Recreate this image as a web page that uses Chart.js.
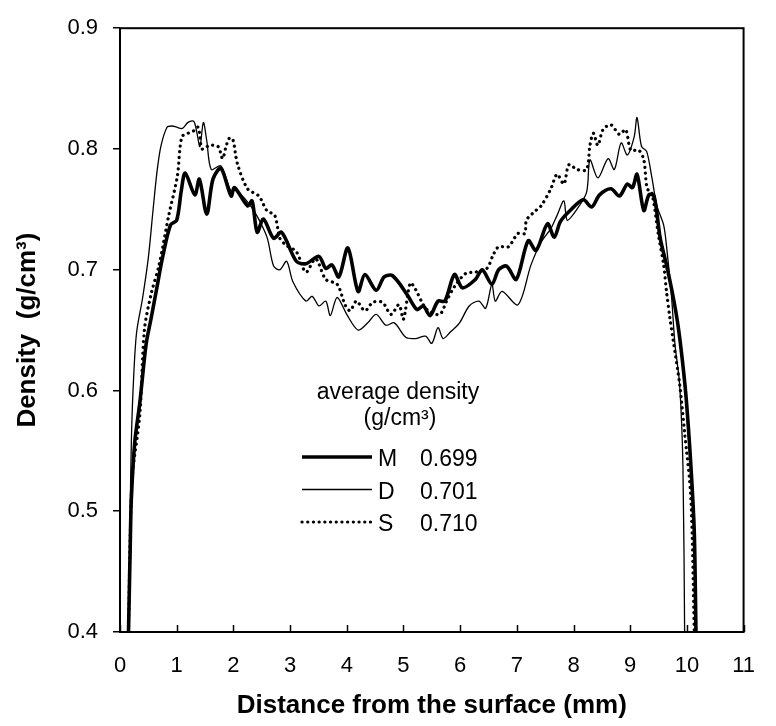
<!DOCTYPE html>
<html>
<head>
<meta charset="utf-8">
<script src="https://cdn.jsdelivr.net/npm/chart.js@4.4.1/dist/chart.umd.min.js"></script>
<style>
  html, body { margin: 0; padding: 0; background: #fff; }
  #wrap { width: 776px; height: 726px; position: relative; }
</style>
</head>
<body>
<div id="wrap"><canvas id="densityChart"></canvas></div>
<script>
// density profiles (x = distance in mm, y = density g/cm3)
const mX = [0.15,0.18,0.20,0.26,0.35,0.46,0.55,0.65,0.75,0.89,1.0,1.08,1.15,1.32,1.40,1.53,1.64,1.78,1.96,2.02,2.25,2.33,2.42,2.53,2.71,2.85,3.11,3.28,3.51,3.63,3.74,3.86,4.02,4.20,4.32,4.52,4.66,4.81,5.07,5.24,5.35,5.47,5.61,5.73,5.90,6.04,6.27,6.39,6.56,6.68,6.82,6.99,7.20,7.34,7.54,7.66,7.77,7.94,8.17,8.32,8.46,8.66,8.81,8.95,9.04,9.12,9.24,9.33,9.42,9.53,9.64,9.76,9.84,9.92,9.99,10.07,10.13,10.16];
const mY = [0.40,0.47,0.51,0.557,0.59,0.638,0.66,0.685,0.71,0.737,0.741,0.765,0.780,0.762,0.775,0.746,0.775,0.784,0.761,0.768,0.753,0.757,0.731,0.742,0.726,0.731,0.707,0.705,0.711,0.701,0.704,0.694,0.718,0.682,0.696,0.683,0.694,0.695,0.679,0.667,0.670,0.662,0.674,0.674,0.696,0.685,0.692,0.700,0.688,0.700,0.703,0.692,0.724,0.716,0.738,0.727,0.740,0.749,0.758,0.752,0.762,0.767,0.761,0.771,0.768,0.779,0.749,0.762,0.761,0.726,0.704,0.677,0.655,0.625,0.592,0.538,0.483,0.40];

const dX = [0.16,0.18,0.20,0.23,0.29,0.40,0.50,0.58,0.65,0.72,0.83,0.92,1.0,1.1,1.2,1.3,1.35,1.41,1.47,1.53,1.61,1.78,1.96,2.05,2.25,2.36,2.48,2.60,2.71,2.82,2.94,3.05,3.28,3.39,3.51,3.63,3.71,3.83,4.0,4.2,4.37,4.52,4.69,4.84,5.04,5.21,5.39,5.5,5.61,5.7,5.82,5.99,6.16,6.33,6.45,6.56,6.62,6.74,7.02,7.25,7.43,7.6,7.71,7.83,7.89,8.06,8.23,8.29,8.43,8.61,8.72,8.84,8.95,9.07,9.12,9.2,9.29,9.38,9.47,9.59,9.64,9.73,9.79,9.87,9.93,9.96];
const dY = [0.40,0.50,0.557,0.60,0.647,0.677,0.71,0.748,0.78,0.802,0.818,0.819,0.818,0.817,0.822,0.823,0.815,0.802,0.822,0.807,0.783,0.786,0.765,0.766,0.756,0.749,0.739,0.726,0.703,0.700,0.707,0.690,0.674,0.678,0.670,0.674,0.662,0.677,0.663,0.650,0.656,0.663,0.654,0.656,0.644,0.643,0.645,0.639,0.652,0.643,0.648,0.656,0.670,0.674,0.668,0.688,0.674,0.682,0.671,0.704,0.723,0.734,0.745,0.757,0.741,0.750,0.764,0.791,0.776,0.792,0.783,0.805,0.795,0.810,0.826,0.802,0.798,0.777,0.753,0.737,0.720,0.677,0.638,0.606,0.538,0.40];

const sX = [0.15,0.18,0.22,0.35,0.43,0.55,0.69,0.86,1.01,1.09,1.2,1.3,1.38,1.45,1.58,1.73,1.81,1.87,1.93,1.99,2.07,2.25,2.45,2.59,2.73,2.82,2.94,3.11,3.28,3.45,3.63,3.83,3.97,4.06,4.17,4.32,4.46,4.63,4.78,4.92,5.0,5.12,5.21,5.35,5.44,5.64,5.76,5.9,6.1,6.27,6.47,6.59,6.68,6.85,7.02,7.14,7.17,7.31,7.43,7.6,7.71,7.83,7.92,8.06,8.23,8.29,8.35,8.43,8.52,8.66,8.81,8.92,9.01,9.15,9.24,9.3,9.38,9.5,9.59,9.64,9.7,9.76,9.87,9.96,10.07,10.13];
const sY = [0.40,0.48,0.53,0.58,0.65,0.68,0.704,0.745,0.777,0.81,0.813,0.815,0.818,0.80,0.803,0.802,0.792,0.802,0.809,0.808,0.788,0.767,0.761,0.749,0.745,0.726,0.720,0.715,0.698,0.709,0.692,0.688,0.671,0.666,0.674,0.666,0.673,0.673,0.663,0.671,0.659,0.689,0.684,0.671,0.666,0.663,0.674,0.686,0.697,0.698,0.701,0.713,0.719,0.719,0.730,0.730,0.741,0.748,0.753,0.767,0.779,0.771,0.787,0.783,0.783,0.803,0.813,0.803,0.816,0.820,0.812,0.816,0.799,0.799,0.791,0.767,0.764,0.728,0.704,0.682,0.660,0.641,0.606,0.565,0.511,0.40];

const seriesNames = ["M", "D", "S"];
const avgDensity = ["0.699", "0.701", "0.710"];
const legendTitle = ["average density", "(g/cm\u00B3)"];

const xTicks = [0,1,2,3,4,5,6,7,8,9,10,11];
const yTicks = [0.4,0.5,0.6,0.7,0.8,0.9];

const FONT = "'Liberation Sans', Arial, sans-serif";

function pts(xs, ys){
  const n = Math.min(xs.length, ys.length);
  const out = [];
  for (let i = 0; i < n; i++) out.push({x: xs[i], y: ys[i]});
  return out;
}

const lineStyles = [
  { borderWidth: 3.6, borderDash: [] },
  { borderWidth: 1.3, borderDash: [] },
  { borderWidth: 3.2, borderDash: [0.1, 5.6], borderCapStyle: "round" }
];

// frame, inward x ticks, and the text legend
const decor = {
  id: "decor",
  afterDraw(chart){
    const {ctx, chartArea: a, scales} = chart;
    ctx.save();
    ctx.strokeStyle = "#000";
    ctx.lineWidth = 2;
    ctx.strokeRect(a.left, a.top, a.right - a.left, a.bottom - a.top);

    ctx.lineWidth = 1.5;
    xTicks.forEach(v => {
      const px = Math.round(scales.x.getPixelForValue(v)) + 0.5;
      ctx.beginPath();
      ctx.moveTo(px, a.bottom);
      ctx.lineTo(px, a.bottom - 7);
      ctx.stroke();
    });

    // legend block
    ctx.fillStyle = "#000";
    ctx.font = "23px " + FONT;
    ctx.textAlign = "center";
    ctx.textBaseline = "middle";
    ctx.fillText(legendTitle[0], 398, 393);
    ctx.fillText(legendTitle[1], 400, 419);

    const lx0 = 302, lx1 = 372, ly0 = 457, gap = 32.5;
    seriesNames.forEach((name, i) => {
      const y = ly0 + i * gap;
      const st = lineStyles[i];
      ctx.save();
      ctx.lineWidth = st.borderWidth;
      ctx.setLineDash(st.borderDash);
      ctx.lineCap = st.borderCapStyle || "butt";
      ctx.beginPath();
      ctx.moveTo(lx0, y);
      ctx.lineTo(lx1, y);
      ctx.stroke();
      ctx.restore();
      ctx.textAlign = "left";
      ctx.fillText(name, 378, y + 3);
      ctx.fillText(avgDensity[i], 420, y + 3);
    });
    ctx.restore();
  }
};

new Chart(document.getElementById("densityChart"), {
  type: "line",
  data: {
    datasets: [
      Object.assign({ label: seriesNames[0], data: pts(mX, mY) }, lineStyles[0]),
      Object.assign({ label: seriesNames[1], data: pts(dX, dY) }, lineStyles[1]),
      Object.assign({ label: seriesNames[2], data: pts(sX, sY) }, lineStyles[2])
    ].map(d => Object.assign(d, {
      borderColor: "#000",
      pointRadius: 0,
      tension: 0.3,
      fill: false
    }))
  },
  options: {
    responsive: true,
    maintainAspectRatio: false,
    animation: false,
    layout: { padding: { top: 20, right: 19, left: 0, bottom: 0 } },
    plugins: { legend: { display: false }, tooltip: { enabled: false } },
    scales: {
      x: {
        type: "linear",
        min: 0, max: 11,
        afterBuildTicks: s => { s.ticks = xTicks.map(v => ({ value: v })); },
        afterFit: s => { s.height = 94; },
        grid: { display: false, drawTicks: false },
        border: { display: false },
        ticks: { color: "#000", font: { family: FONT, size: 22 }, padding: 21, maxRotation: 0 },
        title: {
          display: true,
          text: "Distance from the surface (mm)",
          color: "#000",
          font: { family: FONT, size: 26, weight: "bold" },
          padding: { top: 0, bottom: 5 }
        }
      },
      y: {
        min: 0.4, max: 0.9,
        afterBuildTicks: s => { s.ticks = yTicks.map(v => ({ value: v })); },
        afterFit: s => { s.width = 120; },
        grid: { drawOnChartArea: false, drawTicks: true, tickLength: 7, color: "#000", lineWidth: 1.5 },
        border: { display: false },
        ticks: {
          color: "#000",
          font: { family: FONT, size: 22 },
          padding: 15,
          callback: v => v.toFixed(1)
        },
        title: {
          display: true,
          text: "Density  (g/cm\u00B3)",
          color: "#000",
          font: { family: FONT, size: 26, weight: "bold" },
          padding: { top: 12, bottom: 0 }
        }
      }
    }
  },
  plugins: [decor]
});
</script>
</body>
</html>
